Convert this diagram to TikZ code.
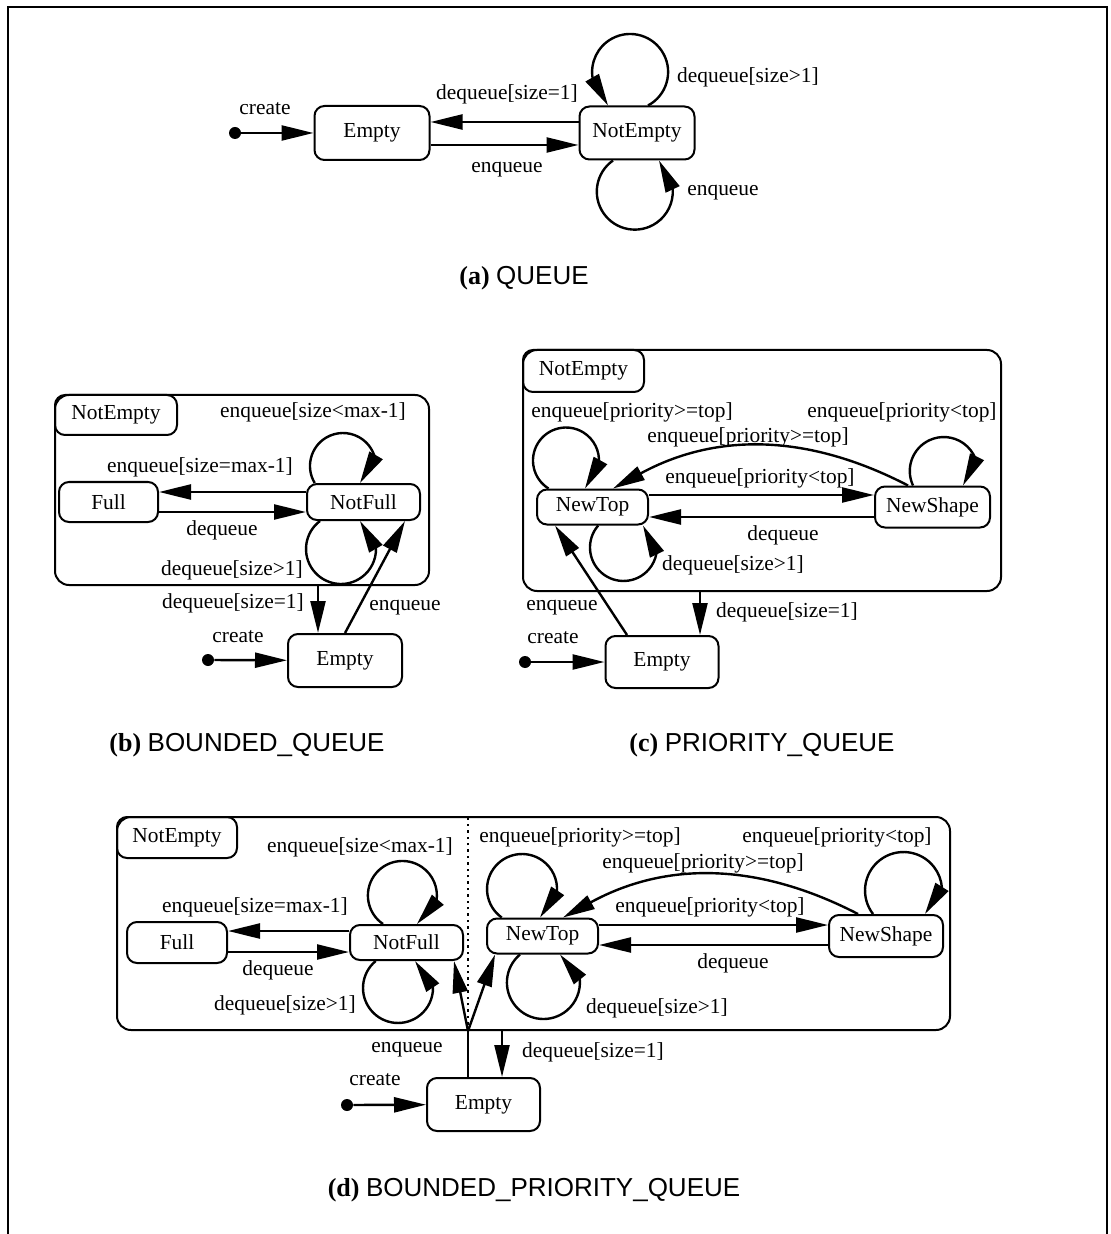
\documentclass[tikz,border=0pt]{standalone}
\usepackage{fontspec}
\setmainfont{Liberation Serif}
\setsansfont{Liberation Sans}
\usepackage{tikz}
\usetikzlibrary{arrows.meta}
\usetikzlibrary{calc}
\usetikzlibrary{positioning}

\begin{document}
\begin{tikzpicture}[x=0.5pt, y=-0.5pt, >={Triangle[length=16pt,width=7.5pt]},
        state/.style={draw, rounded corners=5pt, line width=1pt, inner sep=0pt, font=\fontsize{10.7}{12}\selectfont},
        super/.style={draw, rounded corners=7pt, line width=1pt, inner sep=0pt},
        trans/.style={->, line width=1.2pt},
        lbl/.style={inner sep=0pt, font=\fontsize{10.7}{12}\selectfont},
        init/.style={circle, fill, inner sep=0pt, minimum size=6pt},
        captext/.style={inner sep=0pt, font=\fontsize{13}{15}\selectfont}]
        \useasboundingbox (0,0) rectangle (1111,1234);
        \draw[line width=1.2pt] (8,1234) -- (8,7) -- (1107,7) -- (1107,1234);

        \node[state, minimum width=57.5pt, minimum height=27pt] (qe) at (372,133) {Empty};
        \node[state, minimum width=57.5pt, minimum height=26.5pt, right=74pt of qe] (qn) {NotEmpty};
        \node[init] (qi) at (235,133) {};
        \draw[trans] (qi) -- (qe);
        \draw[trans] ([yshift=5.5pt]qn.west) -- ([yshift=5.5pt]qe.east);
        \draw[trans] ([yshift=-6pt]qe.east) -- ([yshift=-6pt]qn.west);
        \draw[trans] ([xshift=5.5pt]qn.north) arc[start angle=-61.9, end angle=190, radius=19pt] -- ([xshift=-14.5pt]qn.north);
        \draw[trans] ([xshift=-12pt]qn.south) arc[start angle=125, end angle=363, radius=19pt] -- ([xshift=11pt]qn.south);
        \node[lbl] (qlc) at (265,109) {create};
        \node[lbl] (qld) at (507,94) {dequeue[size=1]};
        \node[lbl] (qle) at (507,170) {enqueue};
        \node[lbl] (qlt) at (748,77) {dequeue[size>1]};
        \node[lbl] (qlb) at (723,193) {enqueue};
        \node[captext] (capa) at (524,278) {\textbf{(a)} \textsf{QUEUE}};

        \node[super, minimum width=187pt, minimum height=95pt] (bne) at (242,490) {};
        \node[state, anchor=north west, minimum width=61pt, minimum height=20pt] (bnet) at (bne.north west) {NotEmpty};
        \node[state, minimum width=49.5pt, minimum height=20pt] (bfu) at (108.5,502) {Full};
        \node[state, minimum width=56.5pt, minimum height=18pt] (bnf) at (363.5,502) {NotFull};
        \node[state, minimum width=57pt, minimum height=26.5pt] (bem) at (345,660.5) {Empty};
        \node[init] (bi) at (208,660) {};
        \draw[trans] (bi) -- (bem);
        \draw[trans] ([yshift=5pt]bnf.west) -- ([yshift=5pt]bfu.east);
        \draw[trans] ([yshift=-5pt]bfu.east) -- ([yshift=-5pt]bnf.west);
        \draw[trans] ([xshift=-24.4pt]bnf.north) arc[start angle=211, end angle=15, radius=16.5pt] -- ([xshift=-1.75pt]bnf.north);
        \draw[trans] ([xshift=-21.75pt]bnf.south) arc[start angle=126.9, end angle=360, radius=17.5pt] -- ([xshift=-1.75pt]bnf.south);
        \coordinate (bdq) at ([xshift=-13.5pt]bem.north);
        \draw[trans] (bdq |- bne.south) -- (bdq);
        \draw[trans] (bem.north) -- ([xshift=20.75pt]bnf.south);
        \node[lbl] (blt) at (313,412) {enqueue[size<max-1]};
        \node[lbl] (blf) at (200,467) {enqueue[size=max-1]};
        \node[lbl] (bld) at (222,530) {dequeue};
        \node[lbl] (blb) at (232,570) {dequeue[size>1]};
        \node[lbl] (blq) at (233,603) {dequeue[size=1]};
        \node[lbl] (ble) at (405,608) {enqueue};
        \node[lbl] (blc) at (238,637) {create};
        \node[captext] (capb) at (247,745) {\textbf{(b)} \textsf{BOUNDED\_QUEUE}};

        \node[super, minimum width=239pt, minimum height=120.5pt] (cne) at (762,470.5) {};
        \node[state, anchor=north west, minimum width=60.5pt, minimum height=21pt] (cnet) at (cne.north west) {NotEmpty};
        \node[state, minimum width=55.5pt, minimum height=17.5pt] (cnt) at (592.5,507) {NewTop};
        \node[state, minimum width=57.5pt, minimum height=20.5pt] (cns) at (932.5,507) {NewShape};
        \node[state, minimum width=56.5pt, minimum height=26pt] (cem) at (662,662) {Empty};
        \node[init] (ci) at (525,662) {};
        \draw[trans] (ci) -- (cem);
        \draw[trans] ([yshift=6pt]cnt.east) -- ([yshift=6pt]cns.west);
        \draw[trans] ([yshift=-5pt]cns.west) -- ([yshift=-5pt]cnt.east);
        \draw[trans] ([xshift=-12.25pt]cns.north) to[bend right=28] ([xshift=10.25pt]cnt.north);
        \draw[trans] ([xshift=-22pt]cnt.north) arc[start angle=238, end angle=-5, radius=16.5pt] -- ([xshift=-3.75pt]cnt.north);
        \draw[trans] ([xshift=2.85pt]cnt.south) arc[start angle=139, end angle=350, radius=16.75pt] -- ([xshift=25.25pt]cnt.south);
        \draw[trans] ([xshift=-9.75pt]cns.north) arc[start angle=205.2, end angle=20, radius=17pt] -- ([xshift=15.25pt]cns.north);
        \draw[trans] ([xshift=-17.5pt]cem.north) -- ([xshift=-18.75pt]cnt.south);
        \coordinate (cdq) at ([xshift=19pt]cem.north);
        \draw[trans] (cdq |- cne.south) -- (cdq);
        \node[lbl] (clt) at (632,412) {enqueue[priority>=top]};
        \node[lbl] (clu) at (748,437) {enqueue[priority>=top]};
        \node[lbl] (cls) at (902,412) {enqueue[priority<top]};
        \node[lbl] (clm) at (760,478) {enqueue[priority<top]};
        \node[lbl] (cld) at (783,535) {dequeue};
        \node[lbl] (clb) at (733,565) {dequeue[size>1]};
        \node[lbl] (cle) at (562,608) {enqueue};
        \node[lbl] (clc) at (553,638) {create};
        \node[lbl] (clq) at (787,612) {dequeue[size=1]};
        \node[captext] (capc) at (762,745) {\textbf{(c)} \textsf{PRIORITY\_QUEUE}};

        \node[super, minimum width=416.5pt, minimum height=106.5pt] (dne) at (533.5,923.5) {};
        \node[state, anchor=north west, minimum width=60pt, minimum height=20.5pt] (dnet) at (dne.north west) {NotEmpty};
        \node[state, minimum width=50pt, minimum height=20.5pt] (dfu) at (177,942.5) {Full};
        \node[state, minimum width=56.5pt, minimum height=17.5pt] (dnf) at (406.5,942.5) {NotFull};
        \node[state, minimum width=55.5pt, minimum height=17.5pt] (dnt) at (542.5,936) {NewTop};
        \node[state, minimum width=57pt, minimum height=21pt] (dns) at (886,936) {NewShape};
        \node[state, minimum width=56.5pt, minimum height=26.5pt] (dem) at (483.5,1104.5) {Empty};
        \node[init] (di) at (347,1105) {};
        \draw[trans] (di) -- (dem);
        \draw[trans] ([yshift=5.75pt]dnf.west) -- ([yshift=5.75pt]dfu.east);
        \draw[trans] ([yshift=-4.75pt]dfu.east) -- ([yshift=-4.75pt]dnf.west);
        \draw[trans] ([xshift=-11.75pt]dnf.north) arc[start angle=235.8, end angle=-10, radius=17.25pt] -- ([xshift=5.25pt]dnf.north);
        \draw[trans] ([xshift=-15.4pt]dnf.south) arc[start angle=129.6, end angle=360, radius=17.5pt] -- ([xshift=4.25pt]dnf.south);
        \draw[trans] ([yshift=5.5pt]dnt.east) -- ([yshift=5.5pt]dns.west);
        \draw[trans] ([yshift=-4.5pt]dns.west) -- ([yshift=-4.5pt]dnt.east);
        \draw[trans] ([xshift=-14pt]dns.north) to[bend right=28] ([xshift=10.25pt]dnt.north);
        \draw[trans] ([xshift=-20.4pt]dnt.north) arc[start angle=234.5, end angle=-5, radius=17.5pt] -- ([xshift=-1.25pt]dnt.north);
        \draw[trans] ([xshift=-11.25pt]dnt.south) arc[start angle=129.9, end angle=365, radius=18.25pt] -- ([xshift=8.75pt]dnt.south);
        \draw[trans] ([xshift=-6.5pt]dns.north) arc[start angle=217.6, end angle=5, radius=19.25pt] -- ([xshift=19.5pt]dns.north);
        \coordinate (dje) at ([xshift=-7.75pt]dem.north);
        \coordinate (dj) at (dje |- dne.south);
        \draw[dotted, line width=1.2pt] (dj) -- (dj |- dne.north);
        \draw[line width=1.2pt] (dje) -- (dj);
        \draw[trans] (dj) -- ([xshift=23.75pt]dnf.south);
        \draw[trans] (dj) -- ([xshift=-23.75pt]dnt.south);
        \coordinate (ddq) at ([xshift=9.25pt]dem.north);
        \draw[trans] (ddq |- dne.south) -- (ddq);
        \node[lbl] (dlt) at (360,847) {enqueue[size<max-1]};
        \node[lbl] (dlf) at (255,907) {enqueue[size=max-1]};
        \node[lbl] (dld) at (278,970) {dequeue};
        \node[lbl] (dlb) at (285,1005) {dequeue[size>1]};
        \node[lbl] (dle) at (407,1050) {enqueue};
        \node[lbl] (dlc) at (375,1080) {create};
        \node[lbl] (dpt) at (580,837) {enqueue[priority>=top]};
        \node[lbl] (dps) at (837,837) {enqueue[priority<top]};
        \node[lbl] (dpu) at (703,863) {enqueue[priority>=top]};
        \node[lbl] (dpm) at (710,907) {enqueue[priority<top]};
        \node[lbl] (dpd) at (733,963) {dequeue};
        \node[lbl] (dpb) at (657,1008) {dequeue[size>1]};
        \node[lbl] (dpq) at (593,1052) {dequeue[size=1]};
        \node[captext] (capd) at (534,1190) {\textbf{(d)} \textsf{BOUNDED\_PRIORITY\_QUEUE}};
    \end{tikzpicture}
\end{document}
